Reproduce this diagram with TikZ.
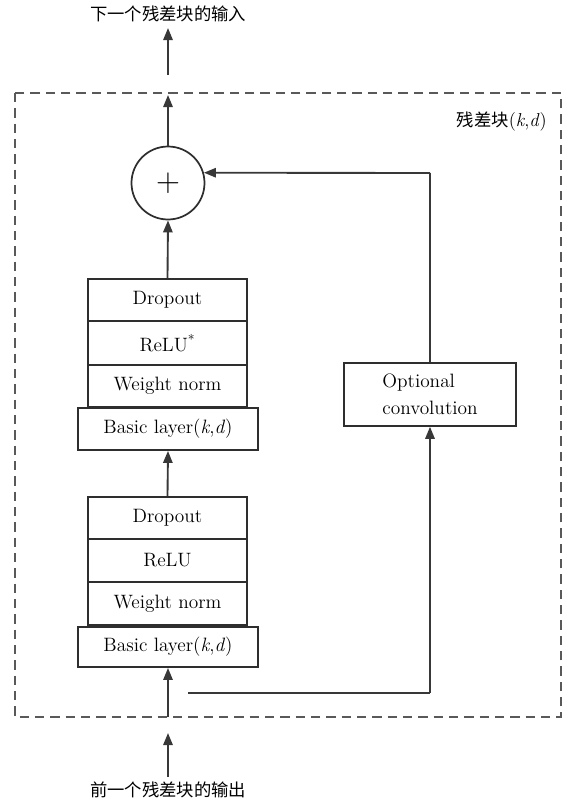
\documentclass[tikz,border=0pt]{standalone}
\usepackage{fontspec}
\newfontfamily\cjk{Noto Sans CJK SC}
\usetikzlibrary{arrows.meta,calc}
\begin{document}
\begin{tikzpicture}[x=0.75pt,y=-0.75pt,
  line/.style={draw=black!78,line width=1.4pt},
  arr/.style={line,-{Triangle[length=9pt,width=7pt]}},
  blk/.style={draw=black!82,line width=1.4pt,fill=white,inner sep=0pt,
    font=\fontsize{14.5}{17}\selectfont},
  lbl/.style={font=\cjk\fontsize{13}{15}\selectfont,inner sep=0pt}]
\useasboundingbox (0,0) rectangle (574,804);
% dashed frame
\draw[draw=black!65,line width=1.2pt,dash pattern=on 7pt off 4.5pt] (15,93) rectangle (561,717);
\node[lbl,anchor=east] (blab) at (547,122) {残差块{\rmfamily\fontsize{14}{16}\selectfont(\textit{k},\textit{d})}};
% top stack
\node[blk,minimum width=119.25pt,minimum height=31.5pt] (d1) at (167.5,300) {Dropout};
\node[blk,minimum width=119.25pt,minimum height=33pt] (r1) at (167.5,343) {ReLU\textsuperscript{*}};
\node[blk,minimum width=119.25pt,minimum height=31.5pt] (w1) at (167.5,386) {Weight norm};
\node[blk,minimum width=135pt,minimum height=31.5pt] (b1) at (168,429) {Basic layer(\textit{k},\textit{d})};
% bottom stack
\node[blk,minimum width=119.25pt,minimum height=31.5pt] (d2) at (167.5,518) {Dropout};
\node[blk,minimum width=119.25pt,minimum height=32.25pt] (r2) at (167.5,560.5) {ReLU};
\node[blk,minimum width=119.25pt,minimum height=32.25pt] (w2) at (167.5,603.5) {Weight norm};
\node[blk,minimum width=135pt,minimum height=30pt] (b2) at (168,647) {Basic layer(\textit{k},\textit{d})};
% optional convolution
\node[blk,minimum width=129pt,minimum height=47pt,align=left] (opt) at (430,394.5) {Optional\\[3pt]convolution};
% adder
\node[draw=black!82,line width=1.3pt,circle,minimum size=54.75pt,inner sep=0pt,font=\fontsize{26}{26}\selectfont] (plus) at (168,183) {$+$};
% labels
\node[lbl] (outl) at (168,14) {下一个残差块的输入};
\node[lbl] (inl) at (168,790) {前一个残差块的输出};
% coordinates
\coordinate (tOutTail) at (168,75);
\coordinate (tOutTip) at (168,28);
\coordinate (tInTip) at (168,95);
\coordinate (bInTail) at (168,777);
\coordinate (bInTip) at (168,733);
\coordinate (fIn) at (168,717);
\coordinate (brA) at (188,693);
\coordinate (brB) at (430,693);
\coordinate (skTop) at (430,173);
% connectors
\draw[arr] (bInTail) -- (bInTip);
\draw[arr] (fIn) -- (b2.south);
\draw[line] (brA) -- (brB);
\draw[arr] (brB) -- (opt.south);
\draw[arr] (d2.north) -- (b1.south);
\draw[arr] (d1.north) -- (plus.south);
\draw[line] (opt.north) -- (skTop);
\draw[arr] (skTop) -- (plus.16);
\draw[arr] (plus.north) -- (tInTip);
\draw[arr] (tOutTail) -- (tOutTip);
\end{tikzpicture}
\end{document}
